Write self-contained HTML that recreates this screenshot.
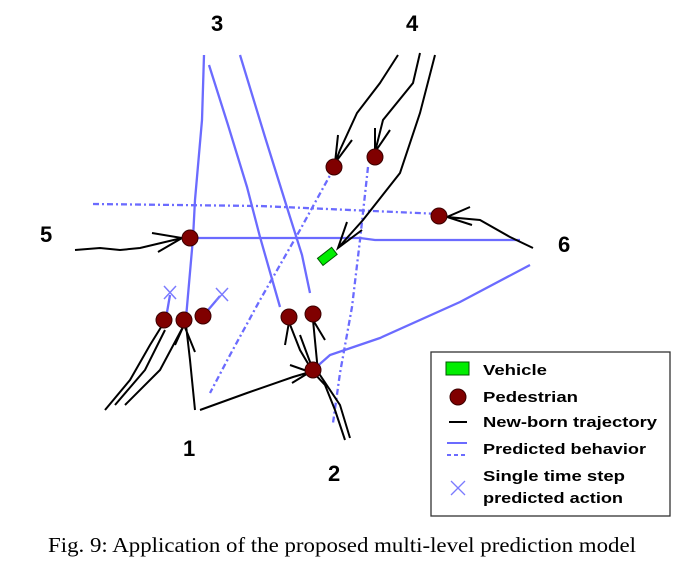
<!DOCTYPE html>
<html><head><meta charset="utf-8"><style>
html,body{margin:0;padding:0;background:#fff;width:684px;height:569px;overflow:hidden}
svg{display:block}
.lbl{font-family:"Liberation Sans",Arial,sans-serif;font-size:22px;font-weight:bold;fill:#000}
.leg{font-family:"Liberation Sans",Arial,sans-serif;font-size:15px;font-weight:bold;fill:#000}
.cap{font-family:"Liberation Serif","Times New Roman",serif;font-size:21px;fill:#000}
</style></head><body>
<svg width="684" height="569" viewBox="0 0 684 569">
<g fill="none" stroke="#6b6bff" stroke-width="2.3">
<path d="M204,55 L202,120 L195,200 L193,238 L186,318"/>
<path d="M209,65 L228,125 L247,187 L260,237 L270,272 L280,307"/>
<path d="M240,55 L265,137 L290,217 L302,255 L310,293"/>
<path d="M193,238 L360,238 L375,240 L520,240"/>
<path d="M313,370 L330,355 L380,338 L460,302 L530,265"/>
<path d="M166,318 L170,295"/>
<path d="M203,316 L220,296"/>
</g>
<g fill="none" stroke="#6b6bff" stroke-width="2.3" stroke-dasharray="6,3,2,3">
<path d="M93,204 L260,206 L440,214"/>
<path d="M334,168 L300,230 L260,300 L230,355 L210,393"/>
<path d="M368,167 L360,240 L352,307 L340,373 L333,423"/>
</g>
<g stroke="#7b7bff" stroke-width="1.5">
<path d="M164,286 L176,299 M176,286 L164,299"/>
<path d="M216,288 L228,301 M228,288 L216,301"/>
</g>
<g fill="none" stroke="#000" stroke-width="2">
<path d="M75,250 L100,248 L120,250 L140,248 L182,238 M152,233 L182,238 L158,252"/>
<path d="M398,55 L380,83 L357,113 L340,150 L335,163 M338,135 L335,163 L352,140"/>
<path d="M420,53 L413,83 L383,120 L375,152 M375,128 L375,152 L390,130"/>
<path d="M435,55 L420,113 L400,173 L363,220 L338,248 M347,222 L338,248 L362,230"/>
<path d="M533,248 L510,237 L480,220 L447,217 M470,207 L447,217 L472,225"/>
<path d="M105,410 L130,380 L150,345 L163,324 M115,405 L145,370 L165,330"/>
<path d="M125,405 L160,370 L184,325 M195,410 L190,360 L186,325 M175,345 L184,325 M195,352 L184,325"/>
<path d="M200,410 L247,393 L293,377 L310,372 M290,365 L310,372 L292,383"/>
<path d="M345,440 L335,410 L325,385 L313,372 L300,350 L289,322 M350,438 L340,405 L318,372 L313,320"/>
<path d="M289,322 L285,345 M313,320 L325,340 M300,335 L313,370"/>
</g>
<g fill="#800000" stroke="#3a0000" stroke-width="1">
<circle cx="190" cy="238" r="8"/><circle cx="334" cy="167" r="8"/><circle cx="375" cy="157" r="8"/>
<circle cx="439" cy="216" r="8"/><circle cx="164" cy="320" r="8"/><circle cx="184" cy="320" r="8"/>
<circle cx="203" cy="316" r="8"/><circle cx="289" cy="317" r="8"/><circle cx="313" cy="314" r="8"/>
<circle cx="313" cy="370" r="8"/>
</g>
<rect x="318" y="252" width="18" height="9" fill="#00ee00" stroke="#005500" transform="rotate(-38 327 256)"/>
<g>
<text class="lbl" x="211" y="31">3</text><text class="lbl" x="406" y="31">4</text>
<text class="lbl" x="40" y="242">5</text><text class="lbl" x="558" y="252">6</text>
<text class="lbl" x="183" y="456">1</text><text class="lbl" x="328" y="481">2</text>
</g>
<g>
<rect x="431" y="352" width="239" height="164" fill="#fff" stroke="#333" stroke-width="1.3"/>
<rect x="446" y="362" width="23" height="13" fill="#00ee00" stroke="#005500"/>
<circle cx="458" cy="397" r="8" fill="#800000" stroke="#3a0000"/>
<line x1="449" y1="422" x2="467" y2="422" stroke="#000" stroke-width="2"/>
<line x1="447" y1="443" x2="467" y2="443" stroke="#6b6bff" stroke-width="2"/>
<line x1="447" y1="455" x2="467" y2="455" stroke="#6b6bff" stroke-width="2" stroke-dasharray="4,3"/>
<path d="M451,481 L465,495 M465,481 L451,495" stroke="#7b7bff" stroke-width="1.3"/>
<text class="leg" x="483" y="375" textLength="64" lengthAdjust="spacingAndGlyphs">Vehicle</text>
<text class="leg" x="483" y="402" textLength="95" lengthAdjust="spacingAndGlyphs">Pedestrian</text>
<text class="leg" x="483" y="427" textLength="174" lengthAdjust="spacingAndGlyphs">New-born trajectory</text>
<text class="leg" x="483" y="454" textLength="163" lengthAdjust="spacingAndGlyphs">Predicted behavior</text>
<text class="leg" x="483" y="481" textLength="142" lengthAdjust="spacingAndGlyphs">Single time step</text>
<text class="leg" x="483" y="503" textLength="140" lengthAdjust="spacingAndGlyphs">predicted action</text>
</g>
<text class="cap" x="48" y="552" textLength="588" lengthAdjust="spacingAndGlyphs">Fig. 9: Application of the proposed multi-level prediction model</text>
</svg>
</body></html>
